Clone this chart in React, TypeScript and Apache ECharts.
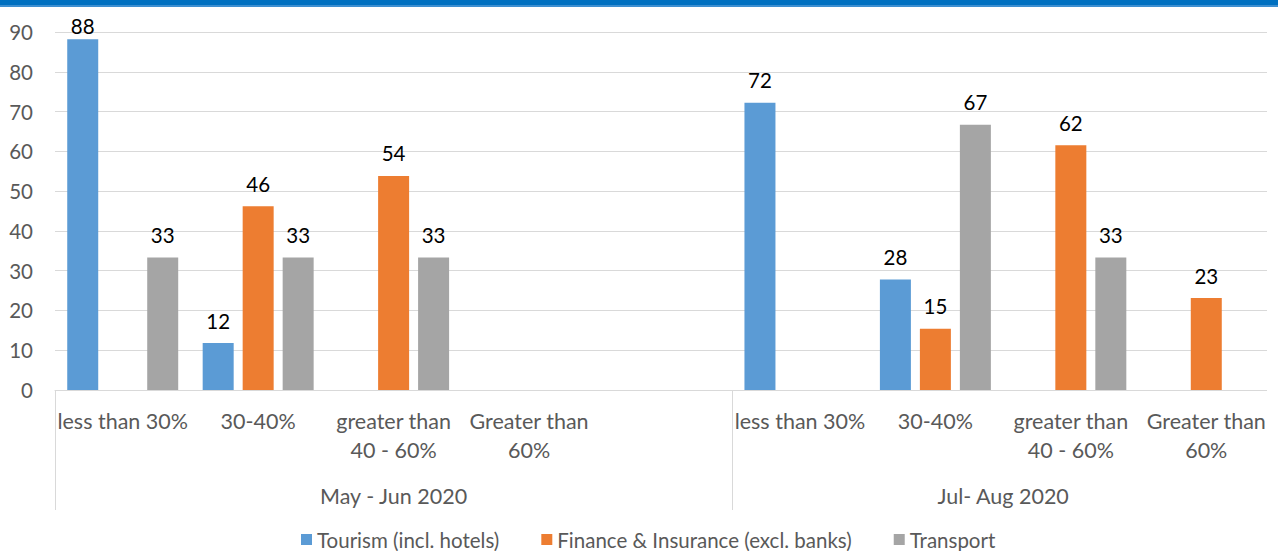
import React, { useEffect, useRef } from "react";
import * as echarts from "echarts";

const categories = [
  "less than 30%",
  "30-40%",
  "greater than\n40 - 60%",
  "Greater than\n60%",
  "",
  "less than 30%",
  "30-40%",
  "greater than\n40 - 60%",
  "Greater than\n60%",
];
const groupLabels = ["May - Jun 2020", "Jul- Aug 2020"];
const seriesNames = ["Tourism (incl. hotels)", "Finance & Insurance (excl. banks)", "Transport"];
const tourism = [88.2, 11.8, null, null, null, 72.2, 27.8, null, null];
const finance = [null, 46.2, 53.8, null, null, null, 15.4, 61.5, 23.1];
const transport = [33.3, 33.3, 33.3, null, null, null, 66.7, 33.3, null];
const colors = ["#5B9BD5", "#ED7D31", "#A5A5A5"];

const FONT = "Lato, 'Open Sans', sans-serif";

export default function App() {
  const ref = useRef<HTMLDivElement>(null);
  useEffect(() => {
    if (!ref.current) return;
    const chart = echarts.init(ref.current, undefined, { renderer: "svg" });
    // group axis: 19 boundary points (half-category steps)
    const groupAxisData: string[] = [];
    for (let i = 0; i <= 18; i++) groupAxisData.push("");
    groupAxisData[5] = groupLabels[0];
    groupAxisData[14] = groupLabels[1];

    const dataSets = [tourism, finance, transport];
    chart.setOption({
      animation: false,
      textStyle: { fontFamily: FONT },
      color: colors,
      grid: { left: 55, right: 4, top: 32, bottom: 161, containLabel: false },
      legend: {
        top: 529,
        left: 301,
        padding: 0,
        icon: "rect",
        itemWidth: 11,
        itemHeight: 11,
        itemGap: 42,
        textStyle: { fontSize: 20.5, color: "#595959", fontFamily: FONT },
        data: seriesNames,
      },
      xAxis: [
        {
          type: "category",
          data: categories,
          axisLine: { lineStyle: { color: "#D9D9D9", width: 1 } },
          axisTick: { show: false },
          axisLabel: {
            interval: 0,
            fontSize: 21.5,
            lineHeight: 29,
            color: "#595959",
            margin: 16,
            fontFamily: FONT,
          },
        },
        {
          type: "category",
          position: "bottom",
          boundaryGap: false,
          data: groupAxisData,
          axisLine: { show: false },
          axisTick: {
            show: true,
            length: 120,
            interval: (index: number) => index === 0 || index === 10,
            lineStyle: { color: "#D9D9D9", width: 1 },
          },
          axisLabel: {
            interval: 0,
            fontSize: 21.5,
            lineHeight: 29,
            color: "#595959",
            margin: 91,
            fontFamily: FONT,
          },
          splitLine: { show: false },
        },
      ],
      yAxis: {
        type: "value",
        min: 0,
        max: 90,
        interval: 10,
        axisLine: { show: false },
        axisTick: { show: false },
        splitLine: { lineStyle: { color: "#D9D9D9", width: 1 } },
        axisLabel: { fontSize: 20.5, color: "#595959", margin: 22, fontFamily: FONT },
      },
      series: seriesNames.map((name, i) => ({
        name,
        type: "bar",
        xAxisIndex: 0,
        data: dataSets[i].map((v) =>
          v != null && v > 85 ? { value: v, label: { distance: 3 } } : v
        ),
        barWidth: 31,
        barGap: "29%",
        itemStyle: { color: colors[i] },
        label: {
          show: true,
          position: "top",
          distance: 12,
          fontSize: 20.5,
          color: "#000000",
          fontFamily: FONT,
          formatter: (p: any) => (p.value == null ? "" : String(Math.round(p.value))),
        },
      })),
      graphic: [
        { type: "rect", left: 1267, top: 7, shape: { width: 11, height: 390 }, style: { fill: "#ffffff" }, z: 100 },
        { type: "rect", left: 0, top: 0, shape: { width: 1278, height: 5 }, style: { fill: "#0070C0" }, z: 101 },
        { type: "rect", left: 0, top: 5, shape: { width: 1278, height: 2 }, style: { fill: "#3D8FD1" }, z: 101 },
      ],
    });
    return () => chart.dispose();
  }, []);
  return (
    <div
      ref={ref}
      style={{ position: "fixed", left: 0, top: 0, width: 1278, height: 551, background: "#fff" }}
    />
  );
}
